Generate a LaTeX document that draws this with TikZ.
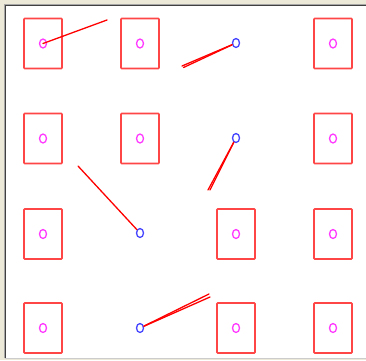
\documentclass[tikz,border=0pt]{standalone}
\usepackage{tikz}
\usepackage{xcolor}
\usetikzlibrary{shapes.geometric}
\definecolor{winbeige}{RGB}{236, 233, 216}
\definecolor{boxred}{RGB}{255, 70, 70}
\definecolor{spotpink}{RGB}{255, 60, 255}
\definecolor{spotblue}{RGB}{70, 70, 255}

\begin{document}
\begin{tikzpicture}[
    x=1pt, y=-1pt,
    cell/.style={draw=boxred, line width=1.6pt, rounded corners=0.8pt,
        minimum width=38pt, minimum height=50pt, inner sep=0pt},
    spot/.style={draw=#1, line width=1.3pt, ellipse,
        minimum width=7pt, minimum height=9pt, inner sep=0pt},
    spot/.default=spotpink,
    trail/.style={draw=red, line width=1.3pt, line cap=round}
]

    % Window frame
    \useasboundingbox (0,0) rectangle (366,360);
    \fill[winbeige] (0,0) rectangle (366,360);
    \fill[white] (5,5) rectangle (366,358);
    \draw[gray!70, line width=1pt] (4.5,358) -- (4.5,4.5) -- (366,4.5);
    \draw[black!75, line width=1pt] (5.5,358) -- (5.5,5.5) -- (366,5.5);
    \draw[gray!40, line width=1pt] (5,358.5) -- (366,358.5);

    % Row 1
    \node[cell] (b11) at (43,43.5) {};
    \node[cell] (b12) at (140,43.5) {};
    \node[cell] (b14) at (333,43.5) {};
    \node[spot] (p11) at (b11) {};
    \node[spot] (p12) at (b12) {};
    \node[spot] (p14) at (b14) {};
    \node[spot=spotblue] (q13) at (236,43) {};

    % Row 2
    \node[cell] (b21) at (43,138.5) {};
    \node[cell] (b22) at (140,138.5) {};
    \node[cell] (b24) at (333,138.5) {};
    \node[spot] (p21) at (b21) {};
    \node[spot] (p22) at (b22) {};
    \node[spot] (p24) at (b24) {};
    \node[spot=spotblue] (q23) at (236,138) {};

    % Row 3
    \node[cell] (b31) at (43,234) {};
    \node[cell] (b33) at (236,234) {};
    \node[cell] (b34) at (333,234) {};
    \node[spot] (p31) at (b31) {};
    \node[spot] (p33) at (b33) {};
    \node[spot] (p34) at (b34) {};
    \node[spot=spotblue] (q32) at (140,233) {};

    % Row 4
    \node[cell] (b41) at (43,328) {};
    \node[cell] (b43) at (236,328) {};
    \node[cell] (b44) at (333,328) {};
    \node[spot] (p41) at (b41) {};
    \node[spot] (p43) at (b43) {};
    \node[spot] (p44) at (b44) {};
    \node[spot=spotblue] (q42) at (140,328) {};

    % Trail ends
    \coordinate (t1) at (107,20);
    \coordinate (t2) at (182,66);
    \coordinate (t2b) at (183.5,67.5);
    \coordinate (t3) at (208,190);
    \coordinate (t3b) at (210,190);
    \coordinate (t4) at (78,166);
    \coordinate (t5) at (209,294);
    \coordinate (t5b) at (210,297);

    % Trails
    \draw[trail] (p11.center) -- (t1);
    \draw[trail] (q13) -- (t2);
    \draw[trail] (q13) -- (t2b);
    \draw[trail] (q23) -- (t3);
    \draw[trail] (q23) -- (t3b);
    \draw[trail] (t4) -- (q32);
    \draw[trail] (q42) -- (t5);
    \draw[trail] (q42) -- (t5b);

\end{tikzpicture}
\end{document}
